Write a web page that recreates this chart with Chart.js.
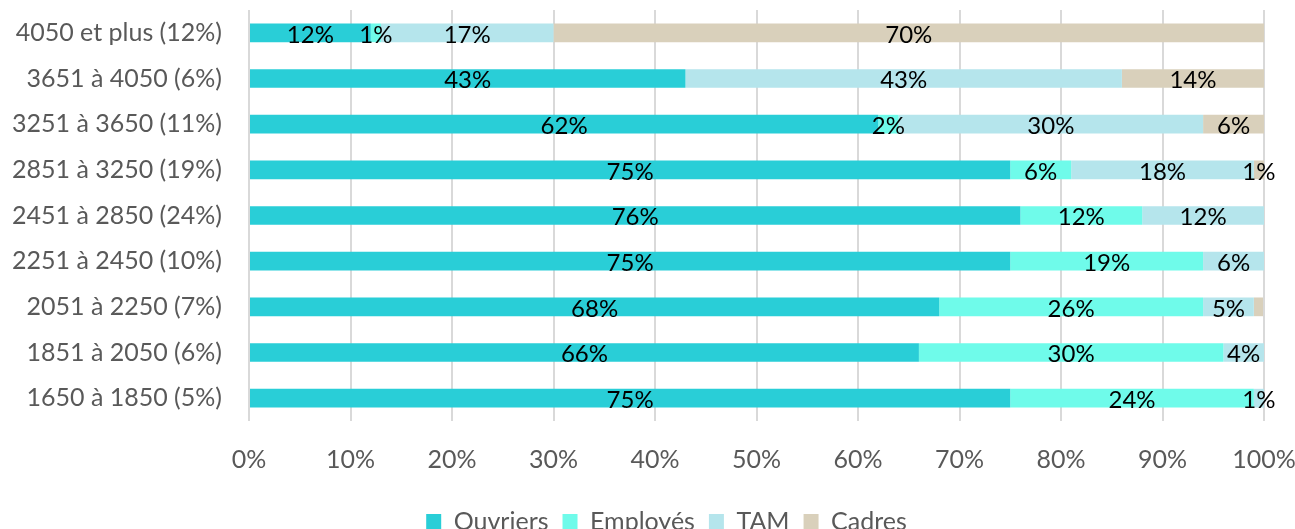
<!DOCTYPE html>
<html>
<head>
<meta charset="utf-8">
<script src="https://cdn.jsdelivr.net/npm/chart.js@4/dist/chart.umd.min.js"></script>
<style>
html,body{margin:0;padding:0;background:#fff;overflow:hidden;}
#wrap{position:relative;width:1295px;height:544px;}
</style>
</head>
<body>
<div id="wrap"><canvas id="c"></canvas></div>
<script>
const categories = [
  "4050 et plus (12%)",
  "3651 à 4050 (6%)",
  "3251 à 3650 (11%)",
  "2851 à 3250 (19%)",
  "2451 à 2850 (24%)",
  "2251 à 2450 (10%)",
  "2051 à 2250 (7%)",
  "1851 à 2050 (6%)",
  "1650 à 1850 (5%)"
];
const seriesNames = ["Ouvriers", "Employés", "TAM", "Cadres"];
const ouvriers = [12, 43, 62, 75, 76, 75, 68, 66, 75];
const employes = [1, 0, 2, 6, 12, 19, 26, 30, 24];
const tam      = [17, 43, 30, 18, 12, 6, 5, 4, 1];
const cadres   = [70, 14, 6, 1, 0, 0, 0.9, 0, 0];
const xTicks = [0,10,20,30,40,50,60,70,80,90,100];
const colors = ["#29CED7", "#6FFBEA", "#B5E5EC", "#D9D0BB"];

const FONT = "Lato, 'Open Sans', sans-serif";

const labelPlugin = {
  id: 'segLabels',
  afterLayout(chart) {
    if (chart.legend) { chart.legend.left += 19; chart.legend.right += 19; }
  },
  afterDatasetsDraw(chart) {
    const ctx = chart.ctx;
    ctx.save();
    ctx.font = "24px " + FONT;
    ctx.fillStyle = "#000";
    ctx.textAlign = "center";
    ctx.textBaseline = "middle";
    chart.data.datasets.forEach((ds, di) => {
      const meta = chart.getDatasetMeta(di);
      meta.data.forEach((bar, i) => {
        const v = ds.data[i];
        if (!v || v < 1) return;
        const x = (bar.x + bar.base) / 2;
        ctx.fillText(Math.round(v) + "%", x, bar.y + 2);
      });
    });
    ctx.restore();
  }
};

const datasetsData = [ouvriers, employes, tam, cadres];
new Chart(document.getElementById('c'), {
  type: 'bar',
  data: {
    labels: categories,
    datasets: seriesNames.map((n, k) => ({
      label: n,
      data: datasetsData[k],
      backgroundColor: colors[k],
      borderWidth: 0,
      categoryPercentage: 1,
      barPercentage: 0.41
    }))
  },
  options: {
    indexAxis: 'y',
    responsive: true,
    maintainAspectRatio: false,
    animation: false,
    layout: { padding: { top: 10, right: 0, left: 0, bottom: 0 } },
    scales: {
      x: {
        stacked: true,
        min: 0, max: 100,
        afterBuildTicks(axis) { axis.ticks = xTicks.map(v => ({ value: v })); },
        afterFit(axis) { axis.height = 74; axis.paddingLeft = 0; axis.paddingRight = 31; },
        ticks: {
          callback: v => v + "%",
          color: "#595959",
          font: { family: FONT, size: 25 },
          padding: 24,
          maxRotation: 0
        },
        grid: { color: "#d9d9d9", lineWidth: 2, drawTicks: false },
        border: { display: false }
      },
      y: {
        stacked: true,
        afterFit(axis) { axis.width = 249; axis.paddingTop = 0; axis.paddingBottom = 0; },
        ticks: {
          color: "#595959",
          font: { family: FONT, size: 25 },
          padding: 27
        },
        grid: { display: false, drawTicks: false },
        border: { display: false }
      }
    },
    plugins: {
      legend: {
        position: 'bottom',
        labels: {
          boxWidth: 15,
          boxHeight: 15,
          color: "#595959",
          font: { family: FONT, size: 25 },
          padding: 14
        }
      },
      tooltip: { enabled: false }
    }
  },
  plugins: [labelPlugin]
});
</script>
</body>
</html>
